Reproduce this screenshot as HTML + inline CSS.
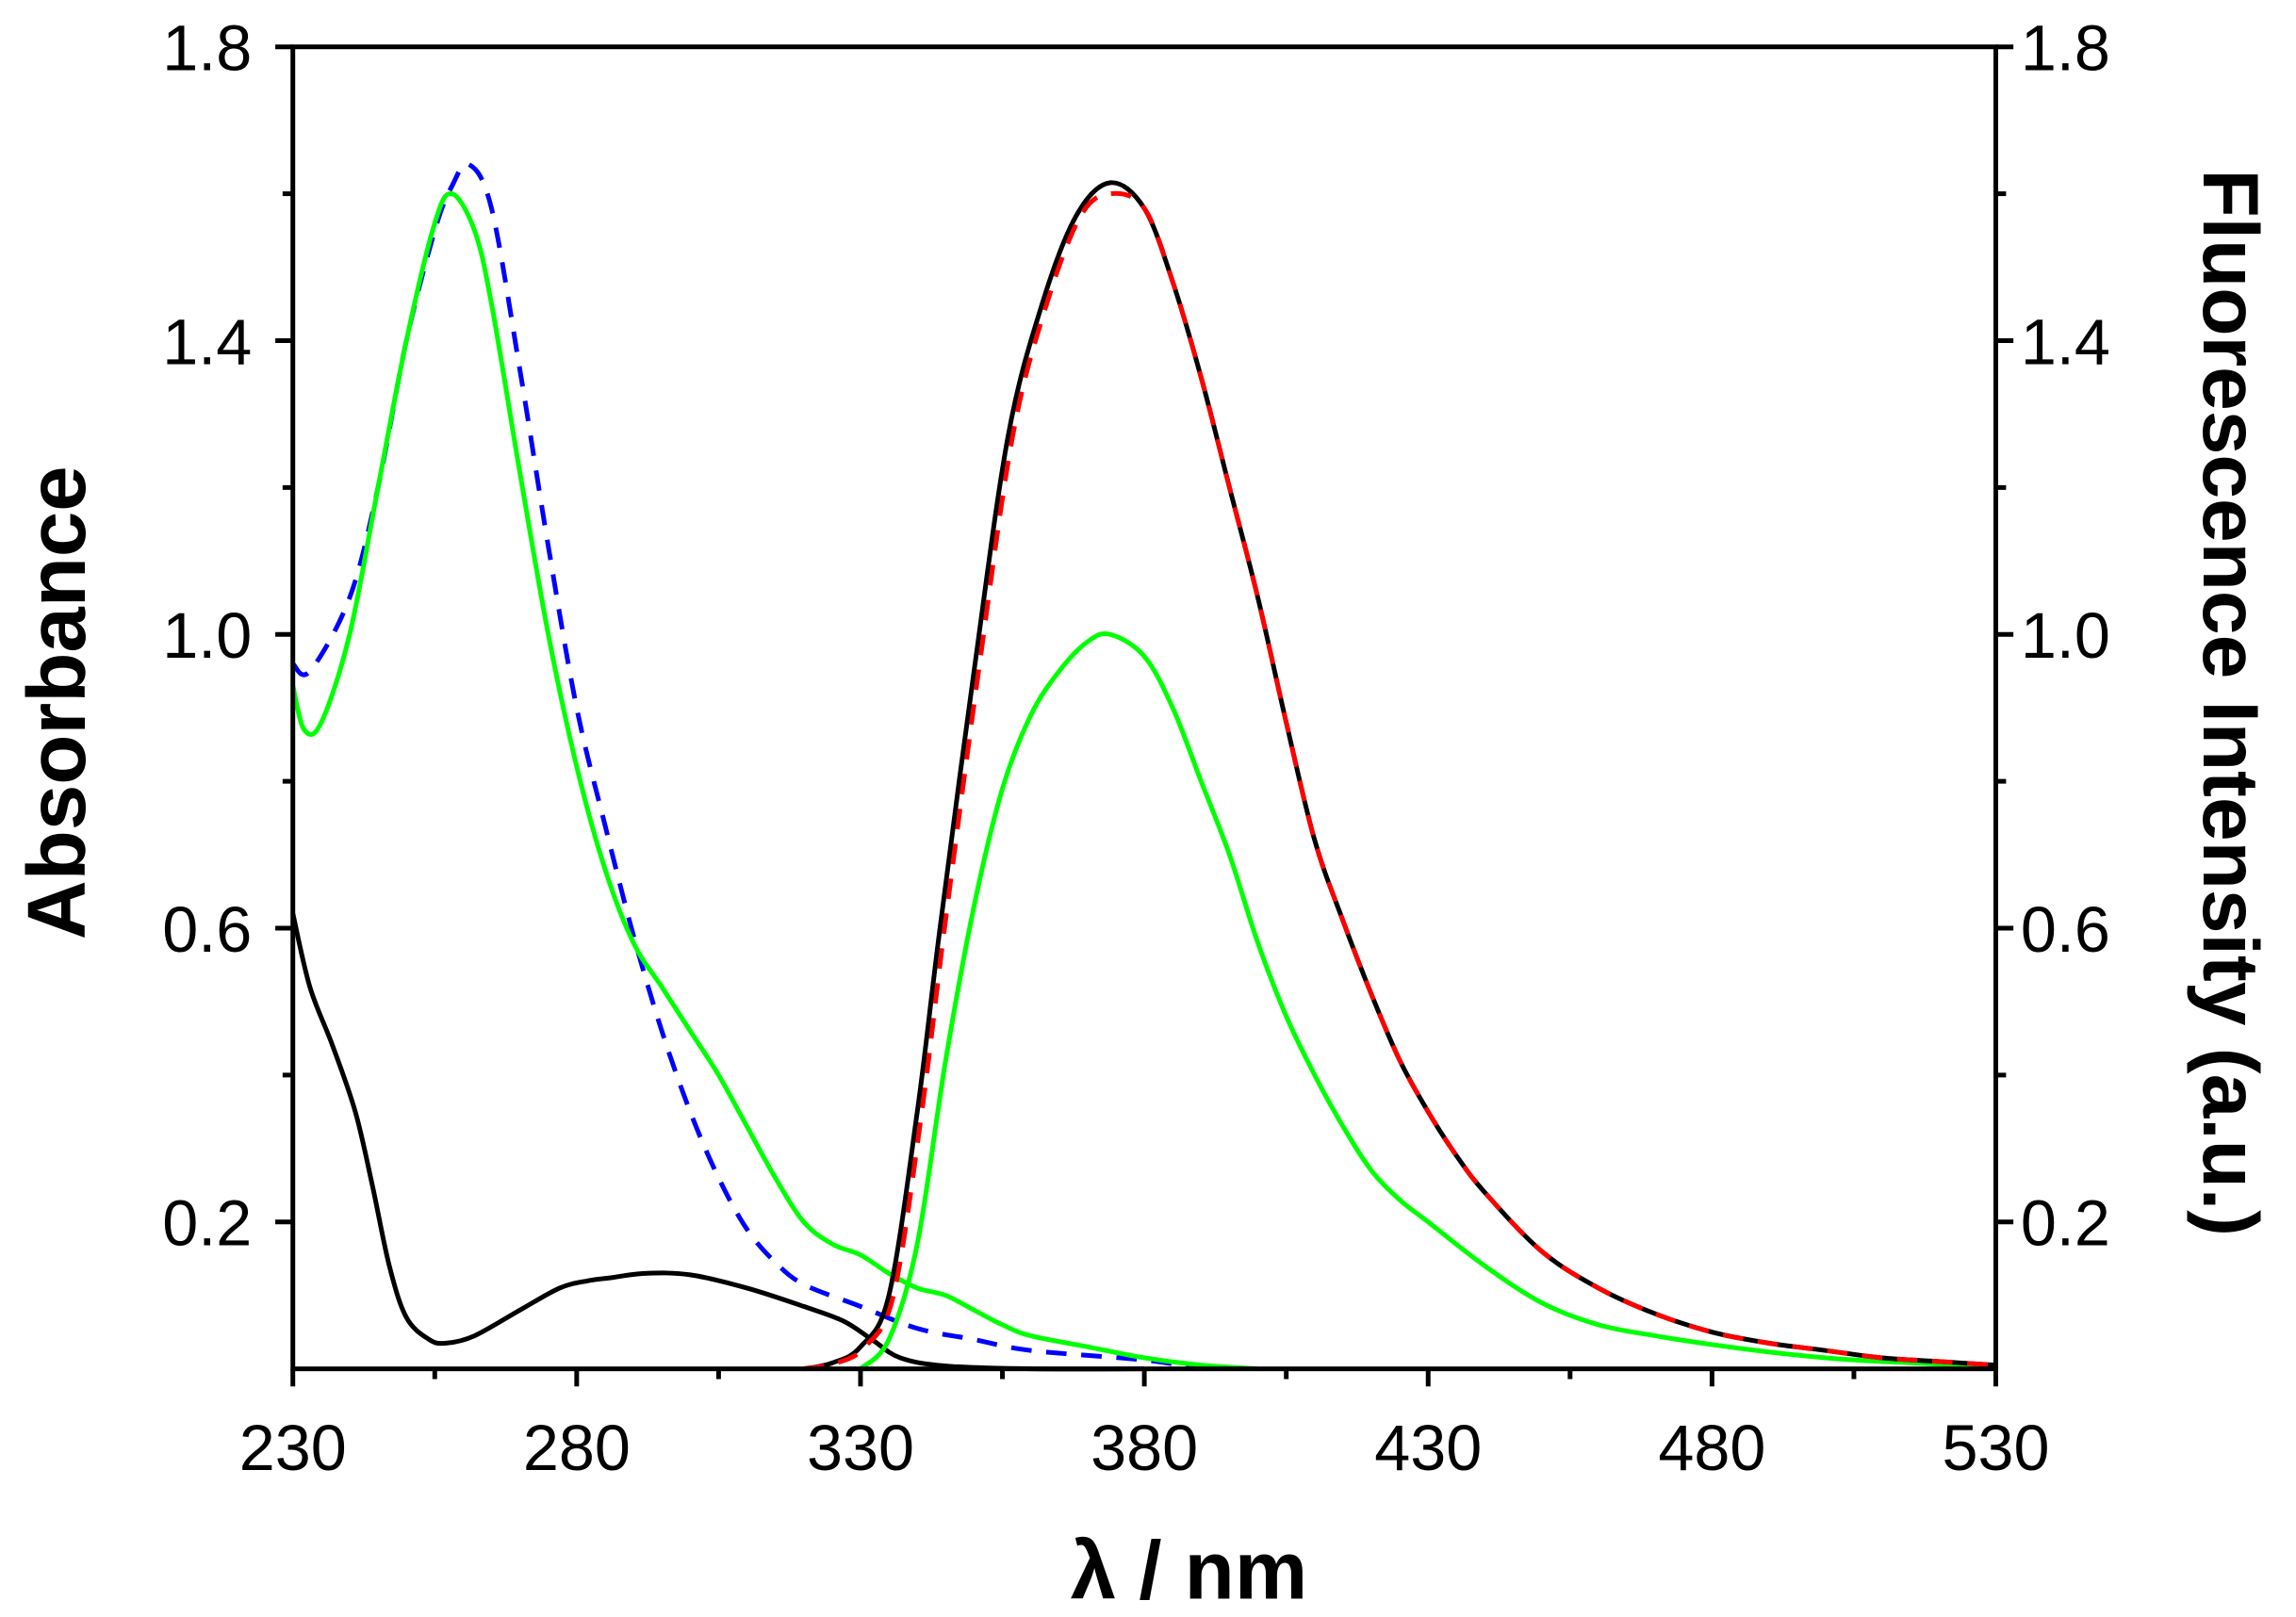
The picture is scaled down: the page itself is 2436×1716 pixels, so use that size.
<!DOCTYPE html>
<html><head><meta charset="utf-8"><style>
html,body{margin:0;padding:0;background:#fff}
svg{display:block}
text{font-family:"Liberation Sans",Arial,sans-serif;fill:#000}
</style></head><body>
<svg id="s" width="2436" height="1716" viewBox="0 0 1568 1104.5" preserveAspectRatio="none" xmlns="http://www.w3.org/2000/svg">
<g id="curves" fill="none" stroke-linejoin="round"></g>
<g stroke="#000" stroke-width="3.2" fill="none">
<rect x="200" y="32" width="1163" height="903"/>
</g>
<g id="ticks" stroke="#000" stroke-width="3.2"></g>
<g font-size="44" id="labels"></g>
<text x="0" y="0" font-size="56" font-weight="bold" text-anchor="middle" transform="translate(58,480) rotate(-90)">Absorbance</text>
<text x="0" y="0" font-size="54" font-weight="bold" text-anchor="middle" transform="translate(1505,480) rotate(90)">Fluorescence Intensity (a.u.)</text>
<text x="812" y="1092" font-size="56" font-weight="bold" text-anchor="middle">λ / nm</text>
</svg>
<script>
var NS="http://www.w3.org/2000/svg";
function X(l){return 200+(l-230)*1163/300}
function Y(v){return 935-v*903/1.8}
function el(p,t,a,txt){var e=document.createElementNS(NS,t);for(var k in a)e.setAttribute(k,a[k]);if(txt!==undefined)e.textContent=txt;document.getElementById(p).appendChild(e);return e}
for(var l=230;l<=530;l+=25){var maj=(l-230)%50==0;el('ticks','line',{x1:X(l),x2:X(l),y1:935,y2:935+(maj?12:7)});
 if(maj)el('labels','text',{x:X(l),y:1004,'text-anchor':'middle'},String(l));}
for(var v=0.2;v<=1.81;v+=0.2){var vv=Math.round(v*10)/10;var maj=Math.round(vv*10)%4==2;
 el('ticks','line',{x1:200-(maj?12:7),x2:200,y1:Y(vv),y2:Y(vv)});
 el('ticks','line',{x1:1363,x2:1363+(maj?12:7),y1:Y(vv),y2:Y(vv)});
 if(maj){el('labels','text',{x:172,y:Y(vv)+16,'text-anchor':'end'},vv.toFixed(1));
 el('labels','text',{x:1380,y:Y(vv)+16,'text-anchor':'start'},vv.toFixed(1));}}
function path(d){var p=d.map(function(a){return[X(a[0]),Y(a[1])]});var s="M"+p[0][0]+","+p[0][1];
 for(var i=0;i<p.length-1;i++){var p0=p[Math.max(0,i-1)],p1=p[i],p2=p[i+1],p3=p[Math.min(p.length-1,i+2)];
 var c1=[p1[0]+(p2[0]-p0[0])/6,p1[1]+(p2[1]-p0[1])/6],c2=[p2[0]-(p3[0]-p1[0])/6,p2[1]-(p3[1]-p1[1])/6];
 s+="C"+c1+" "+c2+" "+p2;}return s}
function curve(d,col,dash){var a={d:path(d),stroke:col,'stroke-width':3.2};if(dash)a['stroke-dasharray']=dash;el('curves','path',a)}
var blackA=[[230,0.62],[233,0.52],[237,0.44],[241,0.35],[244,0.25],[247,0.14],[250,0.07],[254,0.04],[257,0.035],[262,0.045],[270,0.08],[277,0.11],[282,0.12],[286,0.124],[292,0.13],[300,0.128],[310,0.11],[320,0.085],[327,0.065],[332,0.04],[337,0.015],[345,0.004],[360,0],[380,0]];
var blueA=[[230,0.96],[233,0.95],[240,1.05],[245,1.2],[250,1.4],[255,1.55],[258,1.61],[261,1.64],[265,1.58],[270,1.36],[275,1.12],[280,0.9],[285,0.74],[290,0.59],[295,0.46],[300,0.35],[305,0.26],[310,0.19],[315,0.145],[320,0.115],[330,0.085],[340,0.055],[350,0.04],[360,0.025],[380,0.012],[390,0]];
var greenA=[[230,0.93],[232,0.87],[235,0.88],[240,1.0],[245,1.2],[250,1.4],[255,1.56],[258,1.6],[262,1.55],[265,1.45],[270,1.22],[275,1.0],[280,0.82],[285,0.68],[290,0.58],[295,0.52],[300,0.46],[305,0.4],[310,0.33],[315,0.26],[320,0.2],[325,0.17],[330,0.155],[335,0.13],[340,0.11],[345,0.1],[350,0.08],[355,0.06],[360,0.045],[370,0.03],[380,0.015],[390,0.005],[400,0]];
var blackF=[[320,0],[325,0.008],[330,0.03],[335,0.1],[340,0.35],[344,0.6],[350,0.95],[356,1.27],[362,1.45],[368,1.57],[374,1.615],[380,1.58],[385,1.48],[390,1.35],[395,1.2],[400,1.05],[405,0.88],[410,0.72],[415,0.61],[420,0.51],[425,0.42],[430,0.35],[435,0.29],[440,0.24],[450,0.16],[460,0.11],[470,0.075],[480,0.05],[490,0.035],[500,0.025],[510,0.015],[520,0.01],[530,0.005]];
var redF=blackF.map(function(a){return [a[0]<372?a[0]+0.8:a[0],a[0]>=368&&a[0]<=380?Math.min(a[1],1.6):a[1]]});
redF[0]=[320,0];
var greenF=[[330,0],[335,0.04],[340,0.17],[345,0.42],[350,0.63],[355,0.79],[360,0.89],[365,0.95],[370,0.99],[374,1.0],[380,0.97],[385,0.9],[390,0.8],[395,0.7],[400,0.58],[405,0.48],[410,0.4],[415,0.33],[420,0.27],[425,0.23],[430,0.2],[440,0.14],[450,0.09],[460,0.06],[470,0.045],[480,0.033],[490,0.023],[500,0.015],[510,0.01],[530,0.003]];
curve(blueA,'#0000ff','14,10');
curve(blackA,'#000','');
curve(greenA,'#00ff00','');
curve(greenF,'#00ff00','');
curve(blackF,'#000','');
curve(redF,'#ff0000','14,10');
</script>
</body></html>
